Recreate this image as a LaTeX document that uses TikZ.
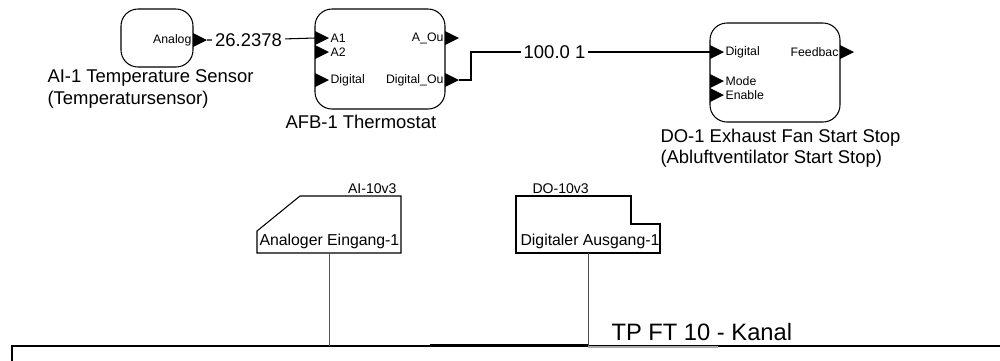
\documentclass[tikz,border=0pt]{standalone}
\usepackage{fontspec}
\setmainfont{Liberation Sans}
\usepackage{xcolor}
\usetikzlibrary{fit}
\definecolor{busgray}{RGB}{170,170,170}
\definecolor{dropgray}{RGB}{80,80,80}

\tikzset{
  fbblock/.style={draw, line width=0.6pt, rounded corners=0.34cm, inner sep=0pt},
  portlbl/.style={font=\fontsize{7}{8}\selectfont, inner sep=0.6pt},
  valuelbl/.style={font=\fontsize{10.5}{12}\selectfont, inner sep=1.5pt},
  namelbl/.style={font=\fontsize{10.5}{12}\selectfont, align=left, inner sep=0pt, anchor=west},
  devlbl/.style={font=\fontsize{9}{10}\selectfont, inner sep=0pt, anchor=west},
  typelbl/.style={font=\fontsize{8}{9}\selectfont, inner sep=0pt},
  dropline/.style={dropgray, line width=0.45pt},
  pinarrow/.pic={\fill (0,-7) -- (14,0) -- (0,7) -- cycle;
    \coordinate (-base) at (0,0); \coordinate (-tip) at (14,0);}
}

\begin{document}
\begin{tikzpicture}[x=0.02cm, y=-0.02cm, line width=0.6pt]
\useasboundingbox (0,0) rectangle (1000,360);

% sensor block
\node[fbblock, fit={(121,9) (193,67)}] (ai) {};
\pic (aiout) at (193,40) {pinarrow};
\node[portlbl, anchor=east] (aioutlbl) at (193,40) {Analog};
\node[namelbl] (ainame) at (47,89) {AI-1 Temperature Sensor\\(Temperatursensor)};

% thermostat block
\node[fbblock, fit={(315,9) (445,109)}] (afb) {};
\pic (afba1) at (315,38) {pinarrow};
\pic (afba2) at (315,52) {pinarrow};
\pic (afbdin) at (315,80) {pinarrow};
\pic (afbaout) at (445,38) {pinarrow};
\pic (afbdout) at (445,80) {pinarrow};
\node[portlbl, anchor=west] (afba1lbl) at (329,38) {A1};
\node[portlbl, anchor=west] (afba2lbl) at (329,52) {A2};
\node[portlbl, anchor=west] (afbdinlbl) at (329,80) {Digital};
\node[portlbl, anchor=east] (afbaoutlbl) at (445,38) {A\_Ou};
\node[portlbl, anchor=east] (afbdoutlbl) at (445,80) {Digital\_Ou};
\node[namelbl] (afbname) at (285,122) {AFB-1 Thermostat};

% fan block
\node[fbblock, fit={(710,23) (840,122)}] (do) {};
\pic (dodig) at (710,52) {pinarrow};
\pic (domode) at (710,81) {pinarrow};
\pic (doen) at (710,95) {pinarrow};
\pic (dofb) at (840,52) {pinarrow};
\node[portlbl, anchor=west] (dodiglbl) at (724,52) {Digital};
\node[portlbl, anchor=west] (domodelbl) at (724,81) {Mode};
\node[portlbl, anchor=west] (doenlbl) at (724,95) {Enable};
\node[portlbl, anchor=east] (dofblbl) at (840,52) {Feedbac};
\node[namelbl] (doname) at (660,148) {DO-1 Exhaust Fan Start Stop\\(Abluftventilator Start Stop)};

% links
\node[valuelbl] (temp) at (248.5,40) {26.2378};
\node[valuelbl] (fanval) at (554.5,52) {100.0 1};
\draw (aiout-tip) -- (temp) -- (afba1-base);
\draw (afbdout-tip) -- ++(12,0) |- (fanval);
\draw (fanval) -- (dodig-base);

% io modules
\draw (257,253) -- (257,231) -- (300,196) -- (401,196) -- (401,253) -- cycle;
\node[typelbl, anchor=east] (aitype) at (397,189) {AI-10v3};
\node[devlbl] (aidev) at (259,241) {Analoger Eingang-1};
\coordinate (aidrop) at (329,253);

\draw (516,253) -- (516,196) -- (631,196) -- (631,224) -- (660,224) -- (660,253) -- cycle;
\node[typelbl, anchor=west] (dotype) at (532,189) {DO-10v3};
\node[devlbl] (dodev) at (520,241) {Digitaler Ausgang-1};
\coordinate (dodrop) at (588,253);

% channel
\coordinate (bus) at (12,346);
\draw (12,362) -- (bus) -- (1000,346);
\draw[line width=1.1pt] (430,345) -- (588,345);
\draw[busgray, line width=0.9pt] (588,347.2) -- (718,347.2);
\draw[dropline] (aidrop) -- (aidrop |- bus);
\draw[dropline] (dodrop) -- (dodrop |- bus);
\node[font=\fontsize{13.5}{15}\selectfont, anchor=west, inner sep=0pt] (kanal) at (611,332) {TP FT 10 - Kanal};
\end{tikzpicture}
\end{document}
